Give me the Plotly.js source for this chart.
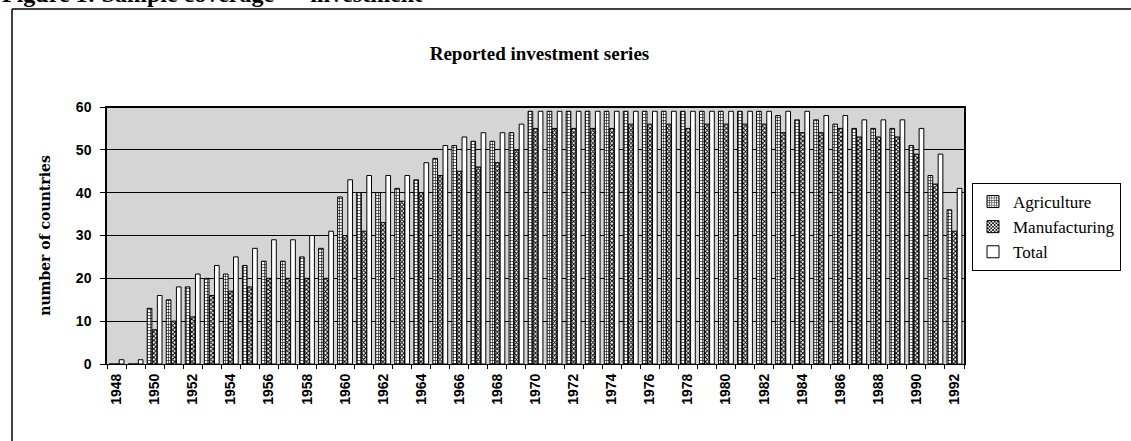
<!DOCTYPE html>
<html>
<head>
<meta charset="utf-8">
<script src="https://cdn.plot.ly/plotly-3.0.1.min.js"></script>
<style>
  body { margin: 0; background: #fff; }
  #plot { width: 1131px; height: 441px; }
</style>
</head>
<body>
<div id="plot"></div>
<script>
// years 1948 - 1992
let years = [];
for (let y = 1948; y <= 1992; y++) years.push(y);

let agriculture = [0, 0, 13, 15, 18, 20, 21, 23, 24, 24,
                   25, 27, 39, 40, 40, 41, 43, 48, 51, 52,
                   52, 54, 59, 59, 59, 59, 59, 59, 59, 59,
                   59, 59, 59, 59, 59, 58, 57, 57, 56, 55,
                   55, 55, 51, 44, 36];

let manufacturing = [0, 0, 8, 10, 11, 16, 17, 18, 20, 20,
                     20, 20, 30, 31, 33, 38, 40, 44, 45, 46,
                     47, 50, 55, 55, 55, 55, 55, 56, 56, 56,
                     55, 56, 56, 56, 56, 54, 54, 54, 55, 53,
                     53, 53, 49, 42, 31];

let total = [1, 1, 16, 18, 21, 23, 25, 27, 29, 29,
             30, 31, 43, 44, 44, 44, 47, 51, 53, 54,
             54, 56, 59, 59, 59, 59, 59, 59, 59, 59,
             59, 59, 59, 59, 59, 59, 59, 58, 58, 57,
             57, 57, 55, 49, 41];

let serif = 'Liberation Serif, Times New Roman, serif';
let wide = 'DejaVu Serif, serif';
let sans = 'Liberation Sans, Arial, sans-serif';

function px2x(px) { return (px - 107) / 857; }
function px2y(py) { return (364 - py) / 257; }

let trace1 = {
    x: years, y: agriculture, type: 'bar', name: 'Agriculture',
    marker: {
        color: 'white',
        line: {color: 'black', width: 1},
        pattern: {shape: '+', fgcolor: 'black', bgcolor: 'white', size: 3, solidity: 0.35}
    }
};
let trace2 = {
    x: years, y: manufacturing, type: 'bar', name: 'Manufacturing',
    marker: {
        color: 'white',
        line: {color: 'black', width: 1},
        pattern: {shape: 'x', fgcolor: 'black', bgcolor: 'white', size: 3, solidity: 0.55}
    }
};
let trace3 = {
    x: years, y: total, type: 'bar', name: 'Total',
    marker: {color: 'white', line: {color: 'black', width: 1}}
};

let data = [trace1, trace2, trace3];

let layout = {
    width: 1131, height: 441,
    margin: {l: 107, r: 167, t: 107, b: 77, autoexpand: false},
    paper_bgcolor: 'white',
    plot_bgcolor: '#d5d5d5',
    barmode: 'group',
    bargap: 0.2,
    bargroupgap: 0.08,
    showlegend: true,
    title: {
        text: 'Reported investment series',
        font: {family: serif, size: 19, color: 'black', weight: 'bold'},
        x: 0.477, xanchor: 'center', y: 0.88, yanchor: 'middle'
    },
    xaxis: {
        type: 'linear',
        range: [1947.5, 1992.5],
        tick0: 1948, dtick: 2,
        tickangle: -90,
        ticks: '',
        tickfont: {family: sans, size: 14, color: 'black', weight: 'bold'},
        ticklabelstandoff: 3,
        showgrid: false,
        showline: true, linecolor: 'black', linewidth: 1, mirror: true,
        zeroline: false,
        minor: {ticks: 'outside', tick0: 1947.5, dtick: 1, ticklen: 4, tickcolor: 'black', showgrid: false}
    },
    yaxis: {
        range: [0, 60],
        dtick: 10,
        ticks: 'outside', ticklen: 5, tickcolor: 'black',
        tickfont: {family: sans, size: 14, color: 'black', weight: 'bold'},
        ticklabelstandoff: 6,
        showgrid: true, gridcolor: 'black', gridwidth: 1,
        showline: true, linecolor: 'black', linewidth: 1.5, mirror: true,
        zeroline: false,
        title: {
            text: 'number of countries',
            font: {family: wide, size: 14, color: 'black', weight: 'bold'},
            standoff: 22
        }
    },
    legend: {
        x: px2x(972), xanchor: 'left',
        y: px2y(183), yanchor: 'top',
        bgcolor: 'white',
        bordercolor: 'black', borderwidth: 1,
        font: {family: serif, size: 17, color: 'black'},
        tracegroupgap: 4,
        itemwidth: 30
    },
    shapes: [
        // outer frame of the figure box
        {type: 'line', xref: 'paper', yref: 'paper', x0: px2x(12), x1: 1.25, y0: px2y(9), y1: px2y(9),
         line: {color: 'black', width: 1.5}},
        {type: 'line', xref: 'paper', yref: 'paper', x0: px2x(12), x1: px2x(12), y0: px2y(9), y1: -0.35,
         line: {color: 'black', width: 1.5}},
        // heavy top border of plot area
        {type: 'line', xref: 'paper', yref: 'paper', x0: 0, x1: 1, y0: 1, y1: 1,
         line: {color: 'black', width: 2}}
    ],
    annotations: [
        {text: 'Figure 1: Sample coverage — investment', xref: 'paper', yref: 'paper',
         x: px2x(0), xanchor: 'left', y: px2y(9), yanchor: 'bottom', showarrow: false,
         font: {family: serif, size: 24, color: 'black', weight: 'bold'}}
    ]
};

Plotly.newPlot('plot', data, layout, {displayModeBar: false});
</script>
</body>
</html>
